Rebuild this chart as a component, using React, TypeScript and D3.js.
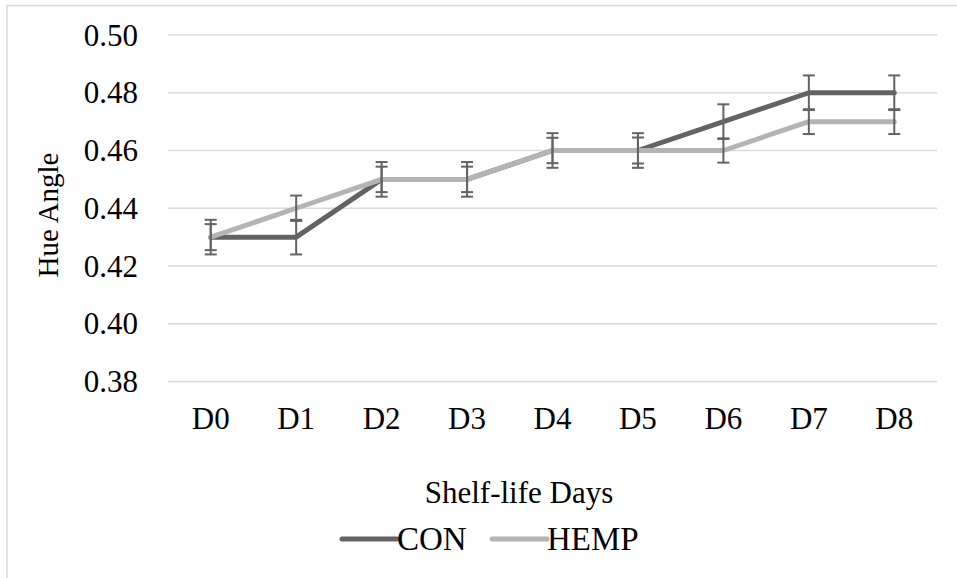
import React, { useRef, useEffect } from 'react';
import * as d3 from 'd3';

// Values
const days = ['D0', 'D1', 'D2', 'D3', 'D4', 'D5', 'D6', 'D7', 'D8'];
const conValues = [0.43, 0.43, 0.45, 0.45, 0.46, 0.46, 0.47, 0.48, 0.48];
const hempValues = [0.43, 0.44, 0.45, 0.45, 0.46, 0.46, 0.46, 0.47, 0.47];
const conErrors = [0.006, 0.006, 0.006, 0.006, 0.006, 0.006, 0.006, 0.006, 0.006];
const hempErrors = [0.0045, 0.0044, 0.0044, 0.0044, 0.0044, 0.0045, 0.0042, 0.0043, 0.0043];
const yTicks = [0.38, 0.4, 0.42, 0.44, 0.46, 0.48, 0.5];
const seriesNames = ['CON', 'HEMP'];
const seriesColors = ['#636363', '#b4b4b4'];

export default function App() {
  const svgRef = useRef<SVGSVGElement | null>(null);

  useEffect(() => {
    const width = 957;
    const height = 578;
    const font = '"Liberation Serif", "Times New Roman", serif';
    const svg = d3.select(svgRef.current);
    svg.selectAll('*').remove();
    svg.attr('width', width).attr('height', height);

    // chart border
    svg.append('rect')
      .attr('x', 7).attr('y', 5.5)
      .attr('width', 960).attr('height', 580)
      .attr('fill', 'white')
      .attr('stroke', '#d9d9d9').attr('stroke-width', 1.5);

    const x = d3.scaleBand().domain(days).range([168, 937]);
    const y = d3.scaleLinear().domain([0.38, 0.5]).range([381.5, 35]);

    // gridlines
    svg.append('g')
      .selectAll('line')
      .data(yTicks)
      .join('line')
      .attr('x1', 168).attr('x2', 937)
      .attr('y1', d => y(d)).attr('y2', d => y(d))
      .attr('stroke', '#d9d9d9').attr('stroke-width', 1.5);

    // y tick labels
    svg.append('g')
      .attr('font-family', font).attr('font-size', 31).attr('text-anchor', 'end')
      .selectAll('text')
      .data(yTicks)
      .join('text')
      .attr('x', 138)
      .attr('y', d => y(d))
      .attr('dy', '0.34em')
      .text(d => d3.format('.2f')(d));

    // x tick labels
    svg.append('g')
      .attr('font-family', font).attr('font-size', 31).attr('text-anchor', 'middle')
      .selectAll('text')
      .data(days)
      .join('text')
      .attr('x', d => x(d)! + x.bandwidth() / 2)
      .attr('y', 429)
      .text(d => d);

    // axis titles
    svg.append('text')
      .attr('font-family', font).attr('font-size', 29).attr('text-anchor', 'middle')
      .attr('transform', 'translate(58,215) rotate(-90)')
      .text('Hue Angle');
    svg.append('text')
      .attr('font-family', font).attr('font-size', 31).attr('text-anchor', 'middle')
      .attr('x', 519).attr('y', 503)
      .text('Shelf-life Days');

    const cx = (d: string) => x(d)! + x.bandwidth() / 2;
    const series = [
      { name: seriesNames[0], values: conValues, errors: conErrors, color: seriesColors[0] },
      { name: seriesNames[1], values: hempValues, errors: hempErrors, color: seriesColors[1] },
    ];

    const line = d3.line<number>()
      .x((_, i) => cx(days[i]))
      .y(d => y(d));

    series.forEach(s => {
      svg.append('path')
        .datum(s.values)
        .attr('d', line)
        .attr('fill', 'none')
        .attr('stroke', s.color)
        .attr('stroke-width', 5)
        .attr('stroke-linecap', 'round')
        .attr('stroke-linejoin', 'round');
    });

    // error bars
    series.forEach(s => {
      const g = svg.append('g').attr('stroke', '#636363').attr('stroke-width', 2);
      s.values.forEach((v, i) => {
        const px = cx(days[i]);
        const top = y(v + s.errors[i]);
        const bot = y(v - s.errors[i]);
        g.append('line').attr('x1', px).attr('x2', px).attr('y1', top).attr('y2', bot);
        g.append('line').attr('x1', px - 6).attr('x2', px + 6).attr('y1', top).attr('y2', top);
        g.append('line').attr('x1', px - 6).attr('x2', px + 6).attr('y1', bot).attr('y2', bot);
      });
    });

    // legend
    const legendX = [342, 492];
    const legend = svg.append('g');
    series.forEach((s, i) => {
      legend.append('line')
        .attr('x1', legendX[i]).attr('x2', legendX[i] + 55)
        .attr('y1', 539).attr('y2', 539)
        .attr('stroke', s.color).attr('stroke-width', 5)
        .attr('stroke-linecap', 'round');
      legend.append('text')
        .attr('font-family', font).attr('font-size', 33)
        .attr('x', legendX[i] + 55).attr('y', 550)
        .text(s.name);
    });
  }, []);

  return (
    <svg ref={svgRef} style={{ position: 'absolute', left: 0, top: 0 }}></svg>
  );
}
